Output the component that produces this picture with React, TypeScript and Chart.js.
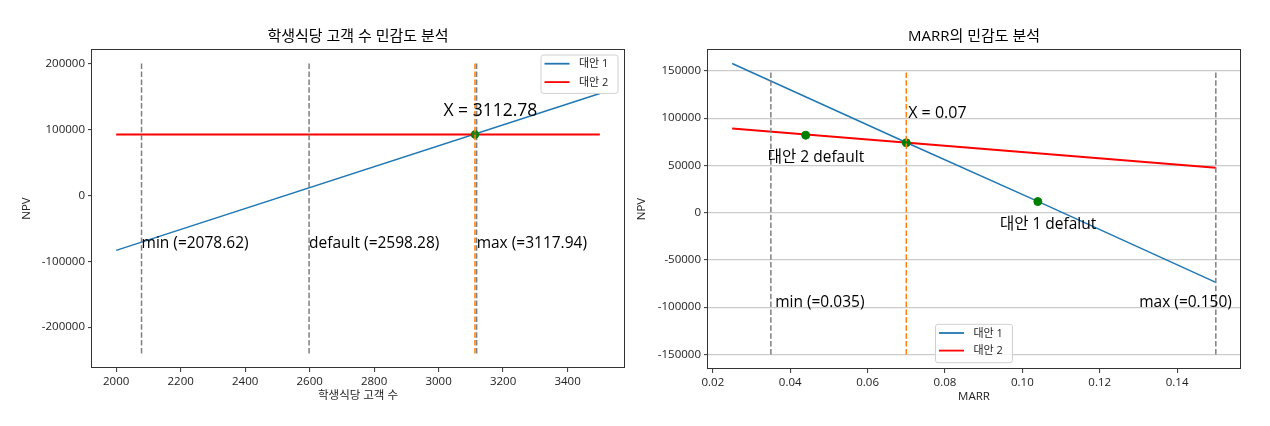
import React, { useEffect, useRef } from "react";
import { Chart, registerables } from "chart.js";

Chart.register(...registerables);

const FONT = "'Open Sans', 'Noto Sans CJK KR', sans-serif";

// ---------- Chart 1: 학생식당 고객 수 민감도 분석 ----------
const customerTitle = "학생식당 고객 수 민감도 분석";
const customerXLabel = "학생식당 고객 수";
const customerX = [2000, 3500];
const customerAlt1 = [-83500, 154400];
const customerAlt2 = [92400, 92400];
const customerMarkX = [2078.62, 2598.28, 3117.94];
const customerVlineY = [-240000, 200000];
const customerBreakEvenX = 3112.78;
const customerBreakEvenY = 92400;
const customerTextLabels = ["min (=2078.62)", "default (=2598.28)", "max (=3117.94)"];
const customerTextX = [2078.62, 2598.28, 3117.94];
const customerTextY = [-80000, -80000, -80000];
const customerBreakEvenLabel = "X = 3112.78";
const customerBreakEvenLabelX = 3015;
const customerBreakEvenLabelY = 120000;
const customerXTicks = [2000, 2200, 2400, 2600, 2800, 3000, 3200, 3400];
const customerYTicks = [-200000, -100000, 0, 100000, 200000];

// ---------- Chart 2: MARR의 민감도 분석 ----------
const marrTitle = "MARR의 민감도 분석";
const marrXLabel = "MARR";
const marrX1 = [0.025, 0.07, 0.104, 0.15];
const marrAlt1 = [157800, 74200, 12000, -73700];
const marrX2 = [0.025, 0.15];
const marrAlt2 = [89000, 47500];
const marrMarkX = [0.035, 0.15];
const marrVlineY = [-150000, 150000];
const marrBreakEvenX = 0.07;
const marrPointX = [0.044, 0.07, 0.104];
const marrPointY = [82000, 74000, 11800];
const marrTextLabels = ["min (=0.035)", "max (=0.150)", "대안 2 default", "대안 1 defalut"];
const marrTextX = [0.0361, 0.1302, 0.0342, 0.0942];
const marrTextY = [-100000, -100000, 54000, -17700];
const marrBreakEvenLabel = "X = 0.07";
const marrBreakEvenLabelX = 0.0705;
const marrBreakEvenLabelY = 100000;
const marrXTicks = [0.02, 0.04, 0.06, 0.08, 0.1, 0.12, 0.14];
const marrYTicks = [-150000, -100000, -50000, 0, 50000, 100000, 150000];

const seriesLabels = ["대안 1", "대안 2"];
const yLabel = "NPV";

const C_BLUE = "#1f77b4";
const C_RED = "#ff0000";
const C_ORANGE = "#ff7f0e";
const C_GRAY = "#808080";
const C_GREEN = "#008000";
const DASH = [5.5, 2.4];

function pts(xs: number[], ys: number[]) {
  return xs.map((x, i) => ({ x, y: ys[i] }));
}
function padRange(vals: number[]) {
  const lo = Math.min(...vals);
  const hi = Math.max(...vals);
  const m = (hi - lo) * 0.05;
  return [lo - m, hi + m];
}

const decorPlugin = {
  id: "decor",
  afterDatasetsDraw(chart: any, _args: any, opts: any) {
    const { ctx, chartArea: a, scales } = chart;
    const xs = scales.x;
    const ys = scales.y;
    ctx.save();
    // annotation texts
    ctx.fillStyle = "#000";
    ctx.textAlign = "left";
    ctx.textBaseline = "alphabetic";
    for (const t of opts.texts || []) {
      ctx.font = `${t.size}px ${FONT}`;
      ctx.fillText(t.text, xs.getPixelForValue(t.x), ys.getPixelForValue(t.y));
    }
    // frame
    ctx.strokeStyle = "#333";
    ctx.lineWidth = 1;
    ctx.strokeRect(Math.round(a.left) - 0.5, Math.round(a.top) + 0.5, Math.round(a.right - a.left) + 1, Math.round(a.bottom - a.top) - 1);
    // title
    ctx.font = `15px ${FONT}`;
    ctx.textAlign = "center";
    ctx.textBaseline = "middle";
    ctx.fillStyle = "#000";
    ctx.fillText(opts.title, (a.left + a.right) / 2, 36.5);
    // legend
    const lg = opts.legend;
    if (lg) {
      const w = 77;
      const h = 38.4;
      let bx: number, by: number;
      if (lg.anchor === "upper right") {
        bx = a.right - 6 - w;
        by = a.top + 6;
      } else {
        bx = (a.left + a.right) / 2 - w / 2;
        by = a.bottom - 6.3 - h;
      }
      ctx.beginPath();
      if ((ctx as any).roundRect) (ctx as any).roundRect(bx, by, w, h, 2.5);
      else ctx.rect(bx, by, w, h);
      ctx.fillStyle = "rgba(255,255,255,0.8)";
      ctx.fill();
      ctx.strokeStyle = "#d0d0d0";
      ctx.lineWidth = 1;
      ctx.stroke();
      lg.items.forEach((it: any, i: number) => {
        const yy = by + 8.7 + i * lg.gap;
        ctx.beginPath();
        ctx.moveTo(bx + 3.5, yy);
        ctx.lineTo(bx + 28.5, yy);
        ctx.strokeStyle = it.color;
        ctx.lineWidth = it.width;
        ctx.stroke();
        ctx.font = `11px ${FONT}`;
        ctx.fillStyle = "#222";
        ctx.textAlign = "left";
        ctx.textBaseline = "middle";
        ctx.fillText(it.label, bx + 38, yy + 0.5);
      });
    }
    ctx.restore();
  },
};

function axisCommon(ticks: number[], fmt: (v: number) => string, size: number, isX: boolean, gridOn: boolean, title: string, titlePad: any) {
  return {
    type: "linear",
    afterBuildTicks: (s: any) => {
      s.ticks = ticks.map((v) => ({ value: v }));
    },
    afterFit: (s: any) => {
      if (isX) s.height = size;
      else s.width = size;
    },
    ticks: {
      callback: (v: any) => fmt(Number(v)),
      font: { size: 11.5, family: FONT },
      color: "#222",
      padding: 3,
      autoSkip: false,
      maxRotation: 0,
      minRotation: 0,
    },
    grid: {
      display: true,
      drawOnChartArea: gridOn,
      drawTicks: true,
      tickLength: 4,
      tickColor: "#333",
      tickWidth: 1,
      color: "#cccccc",
      lineWidth: 1.2,
    },
    border: { display: false },
    title: {
      display: true,
      text: title,
      font: { size: 11.5, family: FONT },
      color: "#222",
      padding: titlePad,
    },
  };
}

function lineDs(label: string, data: any[], color: string, width: number, dash: number[] = []) {
  return {
    label,
    data,
    showLine: true,
    borderColor: color,
    backgroundColor: color,
    borderWidth: width,
    borderDash: dash,
    pointRadius: 0,
    pointHoverRadius: 0,
    tension: 0,
  };
}

function customerConfig(): any {
  const [xmin, xmax] = padRange([...customerX]);
  const [ymin, ymax] = padRange([...customerAlt1, ...customerAlt2, ...customerVlineY]);
  const datasets: any[] = [
    lineDs("x", pts([customerBreakEvenX, customerBreakEvenX], customerVlineY), C_ORANGE, 1.5, DASH),
    {
      label: "pt",
      data: [{ x: customerBreakEvenX, y: customerBreakEvenY }],
      pointRadius: 3.5,
      backgroundColor: "#2e7d1a",
      borderColor: C_GREEN,
      borderWidth: 1.5,
      showLine: false,
    },
    ...customerMarkX.map((mx) => lineDs("v", pts([mx, mx], customerVlineY), C_GRAY, 1.5, DASH)),
    lineDs(seriesLabels[1], pts(customerX, customerAlt2), C_RED, 2),
    lineDs(seriesLabels[0], pts(customerX, customerAlt1), C_BLUE, 1.5),
  ];
  const texts = customerTextLabels.map((t, i) => ({ text: t, x: customerTextX[i], y: customerTextY[i], size: 15.5 }));
  texts.push({ text: customerBreakEvenLabel, x: customerBreakEvenLabelX, y: customerBreakEvenLabelY, size: 17.5 });
  return {
    type: "scatter",
    data: { datasets },
    options: {
      responsive: false,
      animation: false,
      devicePixelRatio: 1,
      layout: { padding: { left: 0, right: 11, top: 49, bottom: 0 } },
      scales: {
        x: { ...axisCommon(customerXTicks, (v) => String(v), 58, true, false, customerXLabel, { top: 0, bottom: 23 }), min: xmin, max: xmax },
        y: { ...axisCommon(customerYTicks, (v) => String(v), 92, false, false, yLabel, { top: 20, bottom: 0 }), min: ymin, max: ymax },
      },
      plugins: {
        legend: { display: false },
        tooltip: { enabled: false },
        decor: {
          title: customerTitle,
          texts,
          legend: {
            anchor: "upper right",
            gap: 18.4,
            items: [
              { label: seriesLabels[0], color: C_BLUE, width: 1.8 },
              { label: seriesLabels[1], color: C_RED, width: 1.8 },
            ],
          },
        },
      },
    },
    plugins: [decorPlugin],
  };
}

function marrConfig(): any {
  const [xmin, xmax] = padRange([...marrX1, ...marrX2, ...marrMarkX]);
  const [ymin, ymax] = padRange([...marrAlt1, ...marrAlt2, ...marrVlineY]);
  const datasets: any[] = [
    lineDs("x", pts([marrBreakEvenX, marrBreakEvenX], marrVlineY), C_ORANGE, 1.5, DASH),
    {
      label: "pts",
      data: pts(marrPointX, marrPointY),
      pointRadius: 4,
      backgroundColor: C_GREEN,
      borderColor: C_GREEN,
      borderWidth: 1,
      showLine: false,
    },
    ...marrMarkX.map((mx) => lineDs("v", pts([mx, mx], marrVlineY), C_GRAY, 1.5, DASH)),
    lineDs(seriesLabels[1], pts(marrX2, marrAlt2), C_RED, 2),
    lineDs(seriesLabels[0], pts(marrX1, marrAlt1), C_BLUE, 1.5),
  ];
  const texts = marrTextLabels.map((t, i) => ({ text: t, x: marrTextX[i], y: marrTextY[i], size: 15.5 }));
  texts.push({ text: marrBreakEvenLabel, x: marrBreakEvenLabelX, y: marrBreakEvenLabelY, size: 16 });
  return {
    type: "scatter",
    data: { datasets },
    options: {
      responsive: false,
      animation: false,
      devicePixelRatio: 1,
      layout: { padding: { left: 0, right: 30, top: 49, bottom: 0 } },
      scales: {
        x: { ...axisCommon(marrXTicks, (v) => v.toFixed(2), 57, true, false, marrXLabel, { top: 0, bottom: 22 }), min: xmin, max: xmax },
        y: { ...axisCommon(marrYTicks, (v) => String(v), 73, false, true, yLabel, { top: 0, bottom: 0 }), min: ymin, max: ymax },
      },
      plugins: {
        legend: { display: false },
        tooltip: { enabled: false },
        decor: {
          title: marrTitle,
          texts,
          legend: {
            anchor: "lower center",
            gap: 17.6,
            items: [
              { label: seriesLabels[0], color: C_BLUE, width: 1.8 },
              { label: seriesLabels[1], color: C_RED, width: 1.8 },
            ],
          },
        },
      },
    },
    plugins: [decorPlugin],
  };
}

function ChartCanvas({ make, left }: { make: () => any; left: number }) {
  const ref = useRef<HTMLCanvasElement>(null);
  useEffect(() => {
    const chart = new Chart(ref.current as HTMLCanvasElement, make());
    return () => chart.destroy();
  }, []);
  return (
    <canvas
      ref={ref}
      width={635}
      height={426}
      style={{ position: "absolute", left, top: 0, width: 635, height: 426 }}
    />
  );
}

export default function App() {
  return (
    <div style={{ position: "fixed", left: 0, top: 0, width: 1270, height: 426, background: "#fff", overflow: "hidden" }}>
      <ChartCanvas make={customerConfig} left={0} />
      <ChartCanvas make={marrConfig} left={635} />
    </div>
  );
}
